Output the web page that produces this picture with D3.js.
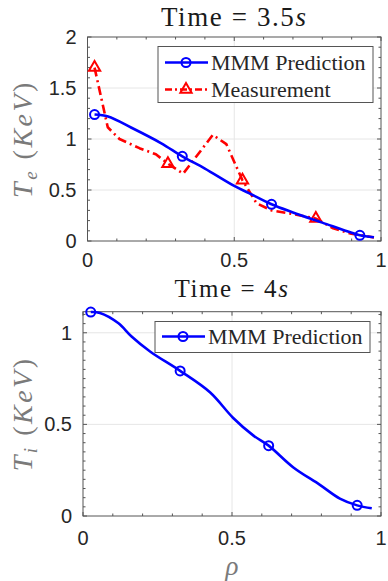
<!DOCTYPE html>
<meta charset="utf-8">
<body style="margin:0">
<script src="https://d3js.org/d3.v7.min.js"></script>
<script>

// electron temperature, t = 3.5 s
var rhoTe  = [0.024, 0.07, 0.15, 0.25, 0.323, 0.4, 0.5, 0.55, 0.627, 0.7, 0.8, 0.9, 0.928, 0.976];
var teMMM  = [1.24, 1.22, 1.11, 0.96, 0.83, 0.71, 0.54, 0.47, 0.36, 0.28, 0.18, 0.08, 0.056, 0.036];
var teMMMMarks = [0, 4, 8, 12];

var rhoMeas = [0.024, 0.069, 0.109, 0.177, 0.233, 0.274, 0.326, 0.427, 0.473, 0.528, 0.576, 0.627, 0.689, 0.778, 0.837, 0.894, 0.976];
var teMeas  = [1.70, 1.115, 1.0, 0.91, 0.85, 0.758, 0.66, 1.04, 0.95, 0.595, 0.37, 0.30, 0.27, 0.22, 0.124, 0.075, 0.035];
var teMeasMarks = [0, 5, 9, 13];

// ion temperature, t = 4 s
var rhoTi = [0.026, 0.057, 0.118, 0.163, 0.225, 0.326, 0.426, 0.504, 0.571, 0.623, 0.706, 0.795, 0.862, 0.92, 0.969];
var tiMMM = [1.113, 1.108, 1.053, 0.98, 0.898, 0.792, 0.675, 0.535, 0.44, 0.384, 0.265, 0.17, 0.095, 0.058, 0.042];
var tiMMMMarks = [0, 5, 9, 13];

var xTicks = [0, 0.5, 1];
var teTicks = [0, 0.5, 1, 1.5, 2];
var tiTicks = [0, 0.5, 1];

var blue = "#0000ff", red = "#ff0000";
var SANS = "'Liberation Sans'";
var SERIF = "'Liberation Serif'";

var svg = d3.select("body").append("svg")
    .attr("width", 388)
    .attr("height", 581);

function fmt(v) { return v === 0 ? "0" : String(v); }

// draws one panel, returns its scales
function panel(opt) {
  var x = d3.scaleLinear().domain([0, 1]).range([opt.left, opt.right]);
  var y = d3.scaleLinear().domain(opt.ydom).range([opt.bottom, opt.top]);
  var g = svg.append("g");

  // grid
  g.selectAll(".gx").data(xTicks.slice(1, -1)).enter().append("line")
      .attr("x1", d => x(d)).attr("x2", d => x(d))
      .attr("y1", opt.top).attr("y2", opt.bottom)
      .attr("stroke", "#e6e6e6").attr("stroke-width", 1);
  g.selectAll(".gy").data(opt.yticks.filter(d => d > 0 && d < opt.ydom[1])).enter().append("line")
      .attr("x1", opt.left).attr("x2", opt.right)
      .attr("y1", d => y(d)).attr("y2", d => y(d))
      .attr("stroke", "#e6e6e6").attr("stroke-width", 1);

  // ticks (inside, all four sides)
  var xMinor = d3.range(0, 1.0001, 0.1);
  var yMinor = d3.range(0, opt.ydom[1] + 1e-6, opt.yminor);
  var tk = g.append("g").attr("stroke", "#555").attr("stroke-width", 1);
  xMinor.forEach(function(d) {
    var major = xTicks.some(t => Math.abs(t - d) < 1e-6);
    var L = major ? 4 : 2.5;
    tk.append("line").attr("x1", x(d)).attr("x2", x(d)).attr("y1", opt.bottom).attr("y2", opt.bottom - L);
    tk.append("line").attr("x1", x(d)).attr("x2", x(d)).attr("y1", opt.top).attr("y2", opt.top + L);
  });
  yMinor.forEach(function(d) {
    var major = opt.yticks.some(t => Math.abs(t - d) < 1e-6);
    var L = major ? 4 : 2.5;
    tk.append("line").attr("x1", opt.left).attr("x2", opt.left + L).attr("y1", y(d)).attr("y2", y(d));
    tk.append("line").attr("x1", opt.right).attr("x2", opt.right - L).attr("y1", y(d)).attr("y2", y(d));
  });

  // box
  g.append("rect")
      .attr("x", opt.left).attr("y", opt.top)
      .attr("width", opt.right - opt.left).attr("height", opt.bottom - opt.top)
      .attr("fill", "none").attr("stroke", "#555").attr("stroke-width", 1);

  // tick labels
  g.selectAll(".xl").data(xTicks).enter().append("text")
      .style("font-family", SANS).attr("font-size", 20).attr("fill", "#262626")
      .attr("x", d => x(d)).attr("y", opt.bottom + opt.xlabDy)
      .attr("text-anchor", "middle")
      .text(fmt);
  g.selectAll(".yl").data(opt.yticks).enter().append("text")
      .style("font-family", SANS).attr("font-size", 20).attr("fill", "#262626")
      .attr("x", opt.left - 11).attr("y", d => y(d) + 7)
      .attr("text-anchor", "end")
      .text(fmt);

  // title
  var t = g.append("text").style("font-family", SERIF)
      .attr("x", (opt.left + opt.right) / 2).attr("y", opt.titleY)
      .attr("text-anchor", "middle")
      .attr("font-size", opt.titleSize).attr("fill", "#1a1a1a")
      .attr("letter-spacing", 1.6);
  t.append("tspan").text("Time = " + opt.time);
  t.append("tspan").attr("font-style", "italic").text("s");

  // y label
  var yl = g.append("text").style("font-family", SERIF)
      .attr("transform", "translate(" + 32 + "," + ((opt.top + opt.bottom) / 2) + ") rotate(-90)")
      .attr("text-anchor", "middle")
      .attr("font-size", 28).attr("fill", "#7a7a7a")
      .attr("letter-spacing", 2.5);
  yl.append("tspan").attr("font-style", "italic").text("T");
  yl.append("tspan").attr("font-style", "italic").attr("font-size", 19).attr("dy", 5).text(opt.sub);
  yl.append("tspan").attr("dy", -5).text(" (");
  yl.append("tspan").attr("font-style", "italic").text("KeV");
  yl.append("tspan").text(")");

  return { x: x, y: y, g: g };
}

function series(p, xs, ys, marks, color, dash, shape, curve) {
  var pts = xs.map((d, i) => [d, ys[i]]);
  var line = d3.line().x(d => p.x(d[0])).y(d => p.y(d[1])).curve(curve || d3.curveLinear);
  p.g.append("path")
      .attr("d", line(pts))
      .attr("fill", "none").attr("stroke", color).attr("stroke-width", 2.6)
      .attr("stroke-linejoin", "round")
      .attr("stroke-dasharray", dash);
  marks.forEach(function(i) {
    var cx = p.x(xs[i]), cy = p.y(ys[i]);
    if (shape === "circle") {
      p.g.append("circle").attr("cx", cx).attr("cy", cy).attr("r", 4.5)
          .attr("fill", "none").attr("stroke", color).attr("stroke-width", 2);
    } else {
      p.g.append("path").attr("d", d3.symbol().type(d3.symbolTriangle).size(55)())
          .attr("transform", "translate(" + cx + "," + cy + ")")
          .attr("fill", "none").attr("stroke", color).attr("stroke-width", 2);
    }
  });
}

function legend(p, box, entries) {
  var lg = p.g.append("g");
  lg.append("rect")
      .attr("x", box.x).attr("y", box.y).attr("width", box.w).attr("height", box.h)
      .attr("fill", "#fff").attr("stroke", "#555").attr("stroke-width", 1);
  entries.forEach(function(e, i) {
    var yy = box.y + box.first + i * box.step;
    lg.append("line")
        .attr("x1", box.x + 7).attr("x2", box.x + 50).attr("y1", yy).attr("y2", yy)
        .attr("stroke", e.color).attr("stroke-width", 2.6)
        .attr("stroke-dasharray", e.dash);
    var mx = box.x + 28;
    if (e.shape === "circle") {
      lg.append("circle").attr("cx", mx).attr("cy", yy).attr("r", 4.5)
          .attr("fill", "none").attr("stroke", e.color).attr("stroke-width", 2);
    } else {
      lg.append("path").attr("d", d3.symbol().type(d3.symbolTriangle).size(55)())
          .attr("transform", "translate(" + mx + "," + yy + ")")
          .attr("fill", "none").attr("stroke", e.color).attr("stroke-width", 2);
    }
    lg.append("text").style("font-family", SERIF)
        .attr("x", box.x + 53).attr("y", yy + 7)
        .attr("font-size", 22).attr("fill", "#262626")
        .text(e.label);
  });
}

// top panel: Te
var p1 = panel({ left: 87.5, right: 381, top: 37, bottom: 241, ydom: [0, 2], yticks: teTicks, yminor: 0.1,
                 titleY: 26, titleSize: 27, xlabDy: 26, time: "3.5", sub: "e" });
series(p1, rhoMeas, teMeas, teMeasMarks, red, "9,4,2,4", "triangle");
series(p1, rhoTe, teMMM, teMMMMarks, blue, null, "circle", d3.curveCatmullRom.alpha(0.5));
legend(p1, { x: 158, y: 46.5, w: 215, h: 56, first: 16, step: 27 }, [
  { label: "MMM Prediction", color: blue, dash: null, shape: "circle" },
  { label: "Measurement", color: red, dash: "7,3,2,3", shape: "triangle" }
]);

// bottom panel: Ti
var p2 = panel({ left: 83, right: 381, top: 311.7, bottom: 516, ydom: [0, 1.115], yticks: tiTicks, yminor: 0.05,
                 titleY: 297, titleSize: 25, xlabDy: 29, time: "4", sub: "i" });
series(p2, rhoTi, tiMMM, tiMMMMarks, blue, null, "circle", d3.curveCatmullRom.alpha(0.5));
legend(p2, { x: 155, y: 321.5, w: 215, h: 31, first: 15, step: 27 }, [
  { label: "MMM Prediction", color: blue, dash: null, shape: "circle" }
]);

// x label
svg.append("text").style("font-family", SERIF)
    .attr("x", 232).attr("y", 575)
    .attr("text-anchor", "middle")
    .attr("font-size", 27).attr("font-style", "italic").attr("fill", "#7a7a7a")
    .text("ρ");

</script>
</body>
